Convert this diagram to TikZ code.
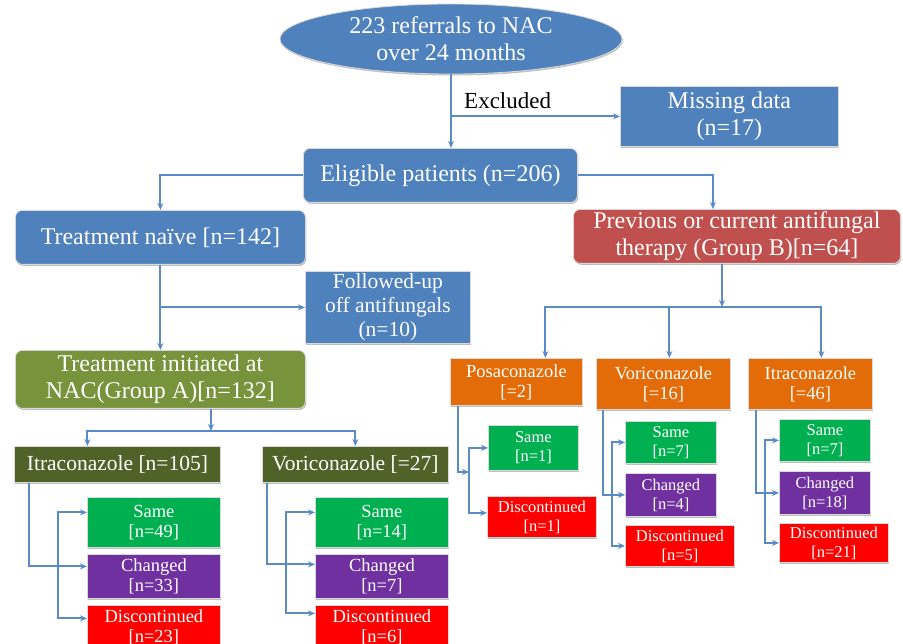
\documentclass[tikz,border=0pt]{standalone}
\usepackage{fontspec}
\setmainfont{Liberation Serif}
\usetikzlibrary{shapes.geometric,arrows.meta,shadows}

\definecolor{nacblue}{HTML}{4F81BD}
\definecolor{linkblue}{HTML}{5B8AC8}
\definecolor{groupAolive}{HTML}{77933C}
\definecolor{darkolive}{HTML}{4F6228}
\definecolor{drugorange}{HTML}{E36C09}
\definecolor{groupBred}{HTML}{C0504D}
\definecolor{samegreen}{HTML}{00B050}
\definecolor{chgpurple}{HTML}{7030A0}
\definecolor{stopred}{HTML}{FF0000}

\tikzset{
  box/.style={draw=white!85!black, line width=0.8pt, text=white, align=center,
    inner sep=0pt, anchor=north west,
    drop shadow={shadow xshift=1pt, shadow yshift=-1.5pt, fill=black, opacity=0.25}},
  roundbox/.style={box, rounded corners=7pt},
  bigtxt/.style={font=\fontsize{24}{27}\selectfont},
  midtxt/.style={font=\fontsize{21.5}{24}\selectfont},
  smalltxt/.style={font=\fontsize{18.5}{20}\selectfont},
  tinytxt/.style={font=\fontsize{16.5}{19}\selectfont},
  link/.style={draw=linkblue, line width=2pt},
  >={Stealth[length=7pt,width=6pt]}
}

\begin{document}
\begin{tikzpicture}[x=1pt,y=-1pt]
    \clip (0,0) rectangle (903,644);

    % Top of the chart
    \node[box, ellipse, fill=nacblue, bigtxt, minimum width=342pt, minimum height=70pt, anchor=center] (refs) at (451,39) {223 referrals to NAC\\over 24 months};
    \node[box, fill=nacblue, bigtxt, minimum width=218pt, minimum height=60pt] (miss) at (620,86) {Missing data\\(n=17)};
    \node[font=\fontsize{23}{26}\selectfont, inner sep=0pt, anchor=base west] (excl) at (464,109) {Excluded};
    \node[roundbox, fill=nacblue, bigtxt, minimum width=274pt, minimum height=54pt] (elig) at (303,148) {Eligible patients (n=206)};

    % Treatment naive side
    \node[roundbox, fill=nacblue, bigtxt, minimum width=290pt, minimum height=54pt] (naive) at (15,210) {Treatment na\"ive [n=142]};
    \node[box, fill=nacblue, midtxt, minimum width=165pt, minimum height=72pt] (follow) at (305,271) {Followed-up\\off antifungals\\(n=10)};
    \node[roundbox, fill=groupAolive, bigtxt, minimum width=290pt, minimum height=58pt] (grpA) at (15,350) {Treatment initiated at\\NAC(Group A)[n=132]};
    \coordinate (barA) at (211,431);

    % Group A drugs
    \node[box, fill=darkolive, midtxt, minimum width=206pt, minimum height=36pt] (itraA) at (14,446) {Itraconazole [n=105]};
    \node[box, fill=darkolive, midtxt, minimum width=186pt, minimum height=36pt] (voriA) at (262,446) {Voriconazole [=27]};

    \node[box, fill=samegreen, smalltxt, minimum width=133pt, minimum height=50pt] (sameIA) at (87,497) {Same\\{[n=49]}};
    \node[box, fill=chgpurple, smalltxt, minimum width=133pt, minimum height=44pt] (chgIA) at (87,554) {Changed\\{[n=33]}};
    \node[box, fill=stopred, smalltxt, minimum width=133pt, minimum height=44pt] (stopIA) at (87,605) {Discontinued\\{[n=23]}};

    \node[box, fill=samegreen, smalltxt, minimum width=133pt, minimum height=50pt] (sameVA) at (315,497) {Same\\{[n=14]}};
    \node[box, fill=chgpurple, smalltxt, minimum width=133pt, minimum height=44pt] (chgVA) at (315,554) {Changed\\{[n=7]}};
    \node[box, fill=stopred, smalltxt, minimum width=133pt, minimum height=44pt] (stopVA) at (315,605) {Discontinued\\{[n=6]}};

    % Group B side
    \node[roundbox, fill=groupBred, bigtxt, minimum width=327pt, minimum height=54pt] (prev) at (573,209) {Previous or current antifungal\\therapy (Group B)[n=64]};
    \coordinate (barB) at (722,307);

    \node[box, fill=drugorange, smalltxt, minimum width=132pt, minimum height=47pt] (posaB) at (450,358) {Posaconazole\\{[=2]}};
    \node[box, fill=drugorange, smalltxt, minimum width=134pt, minimum height=51pt] (voriB) at (596,358) {Voriconazole\\{[=16]}};
    \node[box, fill=drugorange, smalltxt, minimum width=124pt, minimum height=51pt] (itraB) at (748,358) {Itraconazole\\{[=46]}};

    \node[box, fill=samegreen, tinytxt, minimum width=90pt, minimum height=45pt] (samePB) at (488,425) {Same\\{[n=1]}};
    \node[box, fill=stopred, tinytxt, minimum width=109pt, minimum height=41pt] (stopPB) at (487,496) {Discontinued\\{[n=1]}};
    \coordinate (busP) at (469,472);

    \node[box, fill=samegreen, tinytxt, minimum width=91pt, minimum height=42pt] (sameVB) at (625,421) {Same\\{[n=7]}};
    \node[box, fill=chgpurple, tinytxt, minimum width=91pt, minimum height=43pt] (chgVB) at (625,473) {Changed\\{[n=4]}};
    \node[box, fill=stopred, tinytxt, minimum width=109pt, minimum height=41pt] (stopVB) at (625,525) {Discontinued\\{[n=5]}};

    \node[box, fill=samegreen, tinytxt, minimum width=91pt, minimum height=42pt] (sameIB) at (779,419) {Same\\{[n=7]}};
    \node[box, fill=chgpurple, tinytxt, minimum width=91pt, minimum height=43pt] (chgIB) at (779,471) {Changed\\{[n=18]}};
    \node[box, fill=stopred, tinytxt, minimum width=109pt, minimum height=39pt] (stopIB) at (779,523) {Discontinued\\{[n=21]}};

    % Connectors, top
    \draw[link, ->] (refs.south) -- (refs.south |- elig.north);
    \draw[link, ->] (refs.south |- miss.west) -- (miss.west);
    \draw[link, ->] (elig.west) -| (naive.north);
    \draw[link, ->] (elig.east) -| ([xshift=-24pt]prev.north);

    % Connectors, group A
    \draw[link, ->] (naive.south) -- (grpA.north);
    \draw[link, ->] (naive.south |- follow.west) -- (follow.west);
    \draw[link, ->] (barA |- grpA.south) -- (barA);
    \draw[link, ->] (barA) -| ([xshift=-30pt]itraA.north);
    \draw[link, ->] (barA) -| (voriA.north);

    \draw[link, ->] ([xshift=15pt]itraA.south west) |- ([yshift=10pt]chgIA.west);
    \draw[link, <->] ([yshift=10pt]sameIA.west) -- ++(-29,0) |- ([yshift=9pt]stopIA.west);
    \draw[link, ->] ([xshift=5pt]voriA.south west) |- ([yshift=12pt]chgVA.west);
    \draw[link, <->] ([yshift=10pt]sameVA.west) -- ++(-29,0) |- ([yshift=14pt]stopVA.west);

    % Connectors, group B
    \draw[link, ->] (barB |- prev.south) -- (barB);
    \draw[link, ->] (barB) -| ([xshift=29pt]posaB.north);
    \draw[link, ->] (barB) -| ([xshift=6pt]voriB.north);
    \draw[link, ->] (barB) -| ([xshift=11pt]itraB.north);

    \draw[link, ->] ([xshift=8pt]posaB.south west) |- (busP);
    \draw[link, <->] (samePB.west) -| (busP) |- ([yshift=4pt]stopPB.west);
    \draw[link, ->] ([xshift=7pt]voriB.south west) |- (chgVB.west);
    \draw[link, <->] (sameVB.west) -- ++(-13,0) |- (stopVB.west);
    \draw[link, ->] ([xshift=8pt]itraB.south west) |- (chgIB.west);
    \draw[link, <->] (sameIB.west) -- ++(-14,0) |- (stopIB.west);
\end{tikzpicture}
\end{document}
